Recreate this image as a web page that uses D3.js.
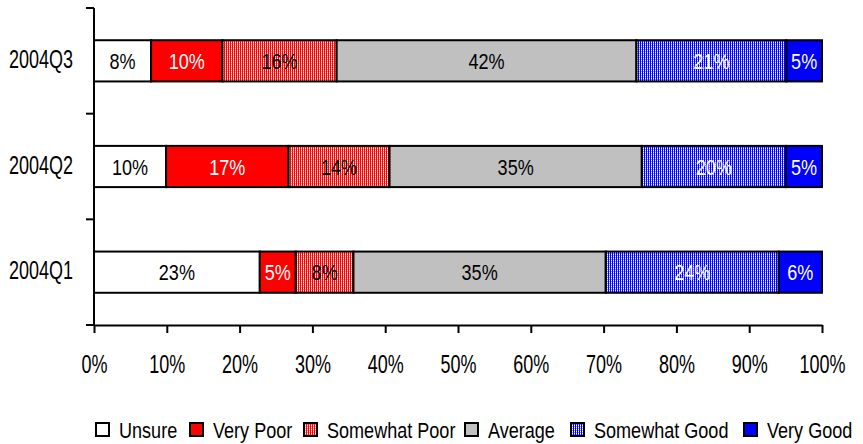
<!DOCTYPE html>
<html>
<head>
<meta charset="utf-8">
<script src="https://cdn.jsdelivr.net/npm/d3@7"></script>
<style>
  body { margin: 0; background: #fff; }
  svg { display: block; font-family: "Liberation Sans", Arial, sans-serif; }
</style>
</head>
<body>
<div id="chart"></div>
<script>
// quarters, top to bottom
const quarters = ["2004Q3", "2004Q2", "2004Q1"];
const seriesNames = ["Unsure", "Very Poor", "Somewhat Poor", "Average", "Somewhat Good", "Very Good"];
// percentages per quarter, in series order (as labelled)
const q3Values = [8, 10, 16, 42, 21, 5];
const q2Values = [10, 17, 14, 35, 20, 5];
const q1Values = [23, 5, 8, 35, 24, 6];
const xTicks = [0, 0.1, 0.2, 0.3, 0.4, 0.5, 0.6, 0.7, 0.8, 0.9, 1];

const width = 863, height = 444;
const marginLeft = 94, marginRight = 41, marginTop = 8, axisY = 325;
const axisFont = 25, labelFont = 21.5;
// condensed look
const axisSqueeze = "scale(0.72,1)";
const labelSqueeze = "scale(0.84,1)";

const svg = d3.select("#chart").append("svg")
    .attr("width", width)
    .attr("height", height);

// fills: solid or dotted patterns
const defs = svg.append("defs");
function dotted(id, base, light) {
  const p = defs.append("pattern")
      .attr("id", id)
      .attr("width", 2).attr("height", 2)
      .attr("patternUnits", "userSpaceOnUse");
  p.append("rect").attr("width", 2).attr("height", 2).attr("fill", base);
  p.append("rect").attr("x", 1).attr("y", 0).attr("width", 1).attr("height", 1).attr("fill", "#fff");
  p.append("rect").attr("x", 1).attr("y", 1).attr("width", 1).attr("height", 1).attr("fill", light);
}
dotted("dotRed", "#ff0000", "#ff9090");
dotted("dotBlue", "#0000ff", "#9090ff");

const fills = ["#ffffff", "#ff0000", "url(#dotRed)", "#c0c0c0", "url(#dotBlue)", "#0000ff"];
const labelColors = ["#000", "#fff", "#000", "#000", "#fff", "#fff"];

const color = d3.scaleOrdinal().domain(seriesNames).range(fills);
const textColor = d3.scaleOrdinal().domain(seriesNames).range(labelColors);

const rows = [q3Values, q2Values, q1Values].map((vals, i) => {
  const row = { quarter: quarters[i] };
  const total = d3.sum(vals);
  seriesNames.forEach((s, j) => { row[s] = vals[j] / total; row[s + "_raw"] = vals[j]; });
  return row;
});

const stacked = d3.stack().keys(seriesNames)(rows);

const x = d3.scaleLinear().domain([0, 1]).range([marginLeft, width - marginRight]);
const y = d3.scaleBand().domain(quarters).range([marginTop, axisY])
    .paddingInner(0.61).paddingOuter(0.305);

// bars
const layer = svg.append("g").selectAll("g")
  .data(stacked)
  .join("g");

layer.selectAll("rect")
  .data(d => d.map(v => Object.assign(v, { key: d.key })))
  .join("rect")
    .attr("x", d => x(d[0]))
    .attr("y", d => y(d.data.quarter))
    .attr("width", d => x(d[1]) - x(d[0]))
    .attr("height", y.bandwidth())
    .attr("fill", d => color(d.key))
    .attr("stroke", "#000")
    .attr("stroke-width", 2);

layer.selectAll("text")
  .data(d => d)
  .join("text")
    .attr("transform", d => `translate(${(x(d[0]) + x(d[1])) / 2},${y(d.data.quarter) + y.bandwidth() / 2 + 0.5}) ${labelSqueeze}`)
    .attr("dy", "0.35em")
    .attr("text-anchor", "middle")
    .attr("font-size", labelFont)
    .attr("fill", d => textColor(d.key))
    .text(d => d.data[d.key + "_raw"] + "%");

// x axis
const xAxis = svg.append("g")
    .attr("transform", `translate(0,${axisY})`)
    .call(d3.axisBottom(x).tickValues(xTicks).tickFormat(d3.format(".0%")).tickSize(8).tickSizeOuter(0).tickPadding(22));
xAxis.attr("font-family", null).attr("font-size", axisFont);
xAxis.select(".domain").attr("stroke-width", 2);
xAxis.selectAll(".tick line").attr("stroke-width", 2);
xAxis.selectAll(".tick text").attr("fill", "#000").attr("transform", axisSqueeze);

// y axis: line plus ticks on category boundaries
const yAxis = svg.append("g");
yAxis.append("line")
    .attr("x1", marginLeft).attr("x2", marginLeft)
    .attr("y1", marginTop).attr("y2", axisY)
    .attr("stroke", "#000").attr("stroke-width", 2);
const bounds = d3.range(quarters.length + 1).map(i => marginTop + i * y.step());
yAxis.selectAll(".bt")
  .data(bounds)
  .join("line")
    .attr("x1", marginLeft - 8).attr("x2", marginLeft)
    .attr("y1", d => d).attr("y2", d => d)
    .attr("stroke", "#000").attr("stroke-width", 2);
yAxis.selectAll("text")
  .data(quarters)
  .join("text")
    .attr("transform", d => `translate(73,${y(d) + y.bandwidth() / 2 - 1.5}) ${axisSqueeze}`)
    .attr("dy", "0.35em")
    .attr("text-anchor", "end")
    .attr("font-size", axisFont)
    .text(d => d);

// legend
const legendX = [96, 190, 304, 465, 571, 744];
const legend = svg.append("g").selectAll("g")
  .data(seriesNames)
  .join("g")
    .attr("transform", (d, i) => `translate(${legendX[i]},423)`);
legend.append("rect")
    .attr("width", 13).attr("height", 13)
    .attr("fill", d => color(d))
    .attr("stroke", "#000").attr("stroke-width", 2);
legend.append("text")
    .attr("transform", `translate(23,14.5) ${labelSqueeze}`)
    .attr("font-size", labelFont)
    .text(d => d);
</script>
</body>
</html>
